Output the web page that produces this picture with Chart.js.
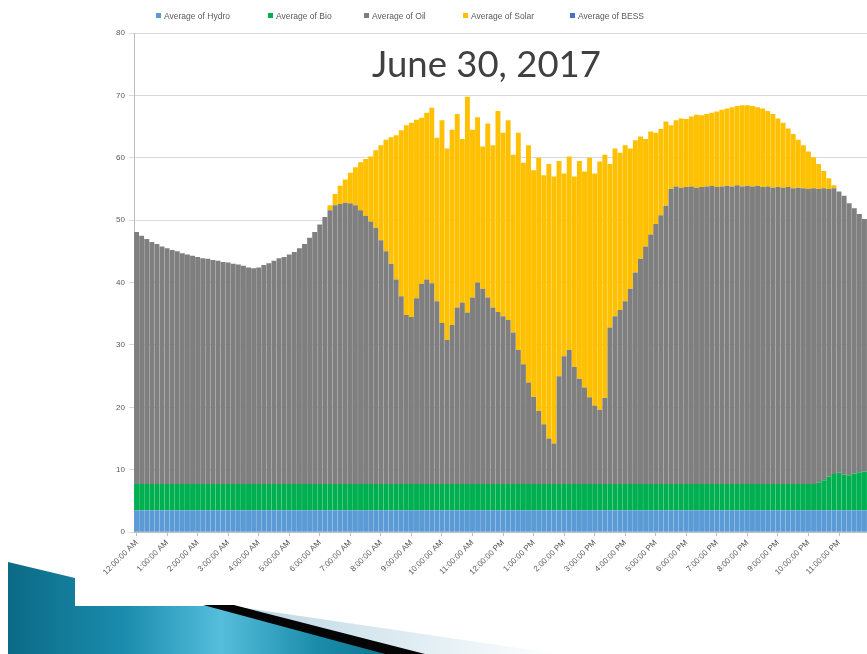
<!DOCTYPE html>
<html>
<head>
<meta charset="utf-8">
<script src="https://cdn.jsdelivr.net/npm/chart.js@4.4.1/dist/chart.umd.min.js"></script>
<style>
  html, body { margin: 0; padding: 0; background: #ffffff; overflow: hidden; }
  #wrap { position: relative; width: 867px; height: 654px; }
  #deco { position: absolute; left: 0; top: 0; z-index: 0; }
  #c { position: absolute; left: 0; top: 0; z-index: 1; }
  #title { position: absolute; left: 372px; top: 41px; z-index: 2; font-family: Lato, "Open Sans", sans-serif;
           font-size: 36.5px; color: #404040; white-space: nowrap; }
  .lg { position: absolute; top: 11px; z-index: 2; font-family: "Liberation Sans", Arial, sans-serif; font-size: 8.5px;
        color: #595959; white-space: nowrap; line-height: 10px; }
  .lg i { display: inline-block; width: 5px; height: 5px; margin-right: 3px; vertical-align: 1px; }
</style>
</head>
<body>
<div id="wrap">
  <svg id="deco" width="867" height="654">
    <defs>
      <linearGradient id="teal" x1="0" x2="1" y1="0" y2="0">
        <stop offset="0" stop-color="#0b6a86"/>
        <stop offset="0.3" stop-color="#1b8cad"/>
        <stop offset="0.55" stop-color="#55bedc"/>
        <stop offset="0.8" stop-color="#1a8caa"/>
        <stop offset="1" stop-color="#0d7390"/>
      </linearGradient>
      <linearGradient id="pale" x1="0" x2="1" y1="0" y2="0">
        <stop offset="0" stop-color="#b9d6e3"/>
        <stop offset="1" stop-color="#ffffff"/>
      </linearGradient>
    </defs>
    <polygon points="8,562 75,578 75,606 210,606 395,654 8,654" fill="url(#teal)"/>
    <polygon points="232,606 560,654 420,654" fill="url(#pale)"/>
    <polygon points="203,605 234,605 425,654 385,654" fill="#050505"/>
  </svg>
  <canvas id="c" width="867" height="654"></canvas>
  <div id="title">June 30, 2017</div>
  <div class="lg" style="left:156px"><i style="background:#5B9BD5"></i>Average of Hydro</div>
  <div class="lg" style="left:268px"><i style="background:#00B050"></i>Average of Bio</div>
  <div class="lg" style="left:364px"><i style="background:#7F7F7F"></i>Average of Oil</div>
  <div class="lg" style="left:463px"><i style="background:#FFC000"></i>Average of Solar</div>
  <div class="lg" style="left:570px"><i style="background:#4472C4"></i>Average of BESS</div>
</div>
<script>
// Hourly tick labels
const hourLabels = ["12:00:00 AM","1:00:00 AM","2:00:00 AM","3:00:00 AM","4:00:00 AM","5:00:00 AM",
  "6:00:00 AM","7:00:00 AM","8:00:00 AM","9:00:00 AM","10:00:00 AM","11:00:00 AM",
  "12:00:00 PM","1:00:00 PM","2:00:00 PM","3:00:00 PM","4:00:00 PM","5:00:00 PM",
  "6:00:00 PM","7:00:00 PM","8:00:00 PM","9:00:00 PM","10:00:00 PM","11:00:00 PM"];
const minuteSlots = ["00","10","20","30","40","50"];
// 10-minute categories
const categories = [];
hourLabels.forEach(h => minuteSlots.forEach(m => categories.push(h.replace(":00:00", ":" + m + ":00"))));

const seriesNames = ["Average of Hydro","Average of Bio","Average of Oil","Average of Solar","Average of BESS"];

const hydro = [
  3.5,3.5,3.5,3.5,3.5,3.5,3.5,3.5,3.5,3.5,3.5,3.5,
  3.5,3.5,3.5,3.5,3.5,3.5,3.5,3.5,3.5,3.5,3.5,3.5,
  3.5,3.5,3.5,3.5,3.5,3.5,3.5,3.5,3.5,3.5,3.5,3.5,
  3.5,3.5,3.5,3.5,3.5,3.5,3.5,3.5,3.5,3.5,3.5,3.5,
  3.5,3.5,3.5,3.5,3.5,3.5,3.5,3.5,3.5,3.5,3.5,3.5,
  3.5,3.5,3.5,3.5,3.5,3.5,3.5,3.5,3.5,3.5,3.5,3.5,
  3.5,3.5,3.5,3.5,3.5,3.5,3.5,3.5,3.5,3.5,3.5,3.5,
  3.5,3.5,3.5,3.5,3.5,3.5,3.5,3.5,3.5,3.5,3.5,3.5,
  3.5,3.5,3.5,3.5,3.5,3.5,3.5,3.5,3.5,3.5,3.5,3.5,
  3.5,3.5,3.5,3.5,3.5,3.5,3.5,3.5,3.5,3.5,3.5,3.5,
  3.5,3.5,3.5,3.5,3.5,3.5,3.5,3.5,3.5,3.5,3.5,3.5,
  3.5,3.5,3.5,3.5,3.5,3.5,3.5,3.5,3.5,3.5,3.5,3.5
];
const bio = [
  4.2,4.2,4.2,4.2,4.2,4.2,4.2,4.2,4.2,4.2,4.2,4.2,
  4.2,4.2,4.2,4.2,4.2,4.2,4.2,4.2,4.2,4.2,4.2,4.2,
  4.2,4.2,4.2,4.2,4.2,4.2,4.2,4.2,4.2,4.2,4.2,4.2,
  4.2,4.2,4.2,4.2,4.2,4.2,4.2,4.2,4.2,4.2,4.2,4.2,
  4.2,4.2,4.2,4.2,4.2,4.2,4.2,4.2,4.2,4.2,4.2,4.2,
  4.2,4.2,4.2,4.2,4.2,4.2,4.2,4.2,4.2,4.2,4.2,4.2,
  4.2,4.2,4.2,4.2,4.2,4.2,4.2,4.2,4.2,4.2,4.2,4.2,
  4.2,4.2,4.2,4.2,4.2,4.2,4.2,4.2,4.2,4.2,4.2,4.2,
  4.2,4.2,4.2,4.2,4.2,4.2,4.2,4.2,4.2,4.2,4.2,4.2,
  4.2,4.2,4.2,4.2,4.2,4.2,4.2,4.2,4.2,4.2,4.2,4.2,
  4.2,4.2,4.2,4.2,4.2,4.2,4.2,4.2,4.2,4.2,4.2,4.2,
  4.2,4.2,4.4,4.8,5.4,5.8,6.0,5.7,5.6,5.9,6.1,6.2
];
const oil = [
  40.4,39.8,39.3,38.8,38.5,38.1,37.8,37.5,37.3,37.0,36.8,36.6,
  36.4,36.2,36.1,35.9,35.8,35.6,35.5,35.3,35.2,35.0,34.7,34.6,
  34.7,35.1,35.4,35.8,36.2,36.4,36.8,37.2,37.8,38.5,39.5,40.4,
  41.6,42.8,43.9,44.7,44.9,45.1,45.0,44.7,43.9,43.0,42.1,41.1,
  39.1,37.3,35.3,32.8,30.1,27.1,26.8,29.8,32.1,32.8,32.2,29.3,
  25.8,23.1,25.5,28.3,29.1,27.5,29.9,32.3,31.3,29.9,28.3,27.6,
  26.9,26.3,24.3,21.5,19.2,16.3,14.0,11.7,9.6,7.3,6.5,17.3,
  20.5,21.5,18.8,16.9,15.5,13.9,12.6,11.9,13.8,25.1,26.9,27.9,
  29.3,31.3,33.9,36.1,38.1,40.0,41.7,43.1,44.6,47.3,47.7,47.5,
  47.6,47.7,47.5,47.6,47.7,47.8,47.6,47.7,47.8,47.7,47.9,47.7,
  47.8,47.7,47.8,47.6,47.7,47.5,47.6,47.5,47.6,47.4,47.5,47.4,
  47.3,47.4,47.1,46.8,46.1,45.8,45.1,44.7,43.6,42.5,41.4,40.5
];
const solar = [
  0,0,0,0,0,0,0,0,0,0,0,0,
  0,0,0,0,0,0,0,0,0,0,0,0,
  0,0,0,0,0,0,0,0,0,0,0,0,
  0,0,0.8,1.8,2.9,3.7,4.9,6.1,7.7,9.1,10.4,12.4,
  15.2,17.9,20.3,23.1,26.6,30.4,31.1,28.6,26.6,26.7,28.1,26.2,
  32.5,30.7,31.3,31.0,26.2,34.6,26.9,26.5,22.8,27.9,26.0,32.2,
  29.4,32.0,28.5,34.8,32.3,38.0,36.3,40.6,39.9,44.0,42.8,34.5,
  29.3,31.0,30.5,34.9,34.6,38.4,37.2,39.8,39.0,26.2,26.9,25.2,
  25.0,22.5,21.2,19.6,17.2,16.5,14.6,13.8,13.5,10.2,10.6,11.1,
  10.9,11.2,11.7,11.5,11.6,11.7,12.1,12.3,12.4,12.7,12.7,13.0,
  12.9,12.9,12.6,12.6,12.1,11.8,11.0,10.4,9.4,8.7,7.7,6.9,
  6.0,5.0,4.0,2.8,1.7,0.5,0,0,0,0,0,0
];
const bess = [
  0,0,0,0,0,0,0,0,0,0,0,0, 0,0,0,0,0,0,0,0,0,0,0,0,
  0,0,0,0,0,0,0,0,0,0,0,0, 0,0,0,0,0,0,0,0,0,0,0,0,
  0,0,0,0,0,0,0,0,0,0,0,0, 0,0,0,0,0,0,0,0,0,0,0,0,
  0,0,0,0,0,0,0,0,0,0,0,0, 0,0,0,0,0,0,0,0,0,0,0,0,
  0,0,0,0,0,0,0,0,0,0,0,0, 0,0,0,0,0,0,0,0,0,0,0,0,
  0,0,0,0,0,0,0,0,0,0,0,0, 0,0,0,0,0,0,0,0,0,0,0,0
];
const yTicks = [0,10,20,30,40,50,60,70,80];

const colors = ["#5B9BD5","#00B050","#7F7F7F","#FFC000","#4472C4"];
const values = [hydro, bio, oil, solar, bess];

const datasets = seriesNames.map((n, k) => ({
  label: n,
  data: values[k],
  backgroundColor: colors[k],
  borderWidth: 0,
  barPercentage: 0.97,
  categoryPercentage: 1.0
}));

new Chart(document.getElementById('c'), {
  type: 'bar',
  data: { labels: categories, datasets },
  options: {
    responsive: false,
    animation: false,
    devicePixelRatio: 1,
    layout: { padding: { left: 114, top: 33, right: 0, bottom: 75 } },
    plugins: { legend: { display: false }, title: { display: false }, tooltip: { enabled: false } },
    scales: {
      x: {
        stacked: true,
        afterBuildTicks: axis => { axis.ticks = axis.ticks.filter(t => t.value % 6 === 0); },
        ticks: {
          autoSkip: false, minRotation: 45, maxRotation: 45, padding: 2,
          color: '#595959', font: { family: 'Liberation Sans', size: 8 },
          callback: v => hourLabels[Math.round(v / 6)]
        },
        grid: { display: true, drawOnChartArea: false, tickLength: 4, color: '#bfbfbf', offset: false },
        border: { display: true, color: '#bfbfbf' }
      },
      y: {
        stacked: true, min: 0, max: 80,
        afterBuildTicks: axis => { axis.ticks = yTicks.map(v => ({ value: v })); },
        afterFit: s => { s.width = 20; },
        ticks: { color: '#595959', padding: 4, font: { family: 'Liberation Sans', size: 8 } },
        grid: { color: '#d9d9d9', tickLength: 5 },
        border: { display: true, color: '#bfbfbf' }
      }
    }
  }
});
</script>
</body>
</html>
